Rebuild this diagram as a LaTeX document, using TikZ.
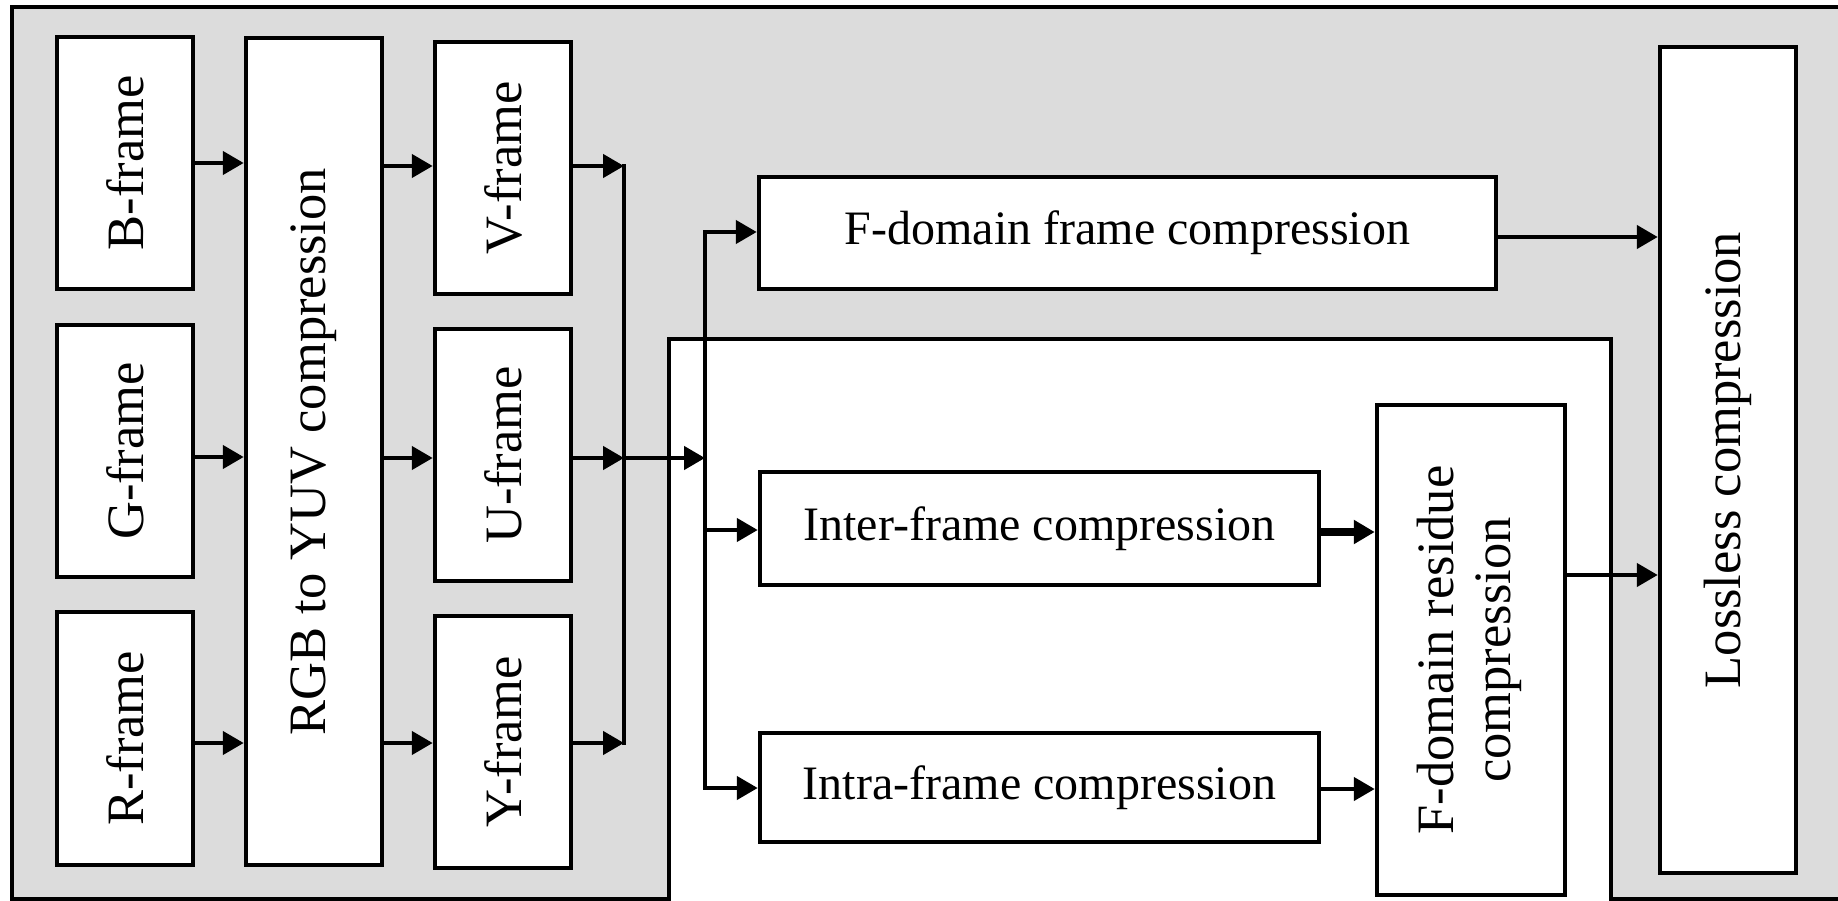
\documentclass[tikz,border=0pt]{standalone}
\usepackage{fontspec}
\setmainfont{Liberation Serif}
\usetikzlibrary{arrows.meta}
\definecolor{panelgray}{RGB}{220,220,220}
\tikzset{
  box/.style={draw=black, fill=white, line width=4.5pt, rectangle, inner sep=0pt, font=\fontsize{52.5}{57}\selectfont},
  hbox/.style={box, font=\fontsize{48}{56}\selectfont},
  arr/.style={line width=4.5pt, -{Triangle[length=21pt,width=23pt]}},
  ln/.style={line width=4.5pt, line cap=rect},
}
\begin{document}
\begin{tikzpicture}[x=1pt,y=-1pt]
\useasboundingbox (0,0) rectangle (1838,901);
\clip (0,0) rectangle (1838,901);
\fill[white] (0,0) rectangle (1838,901);
\filldraw[fill=panelgray, line width=4.5pt, line join=miter]
  (1900,899) -- (1611,899) -- (1611,339) -- (669,339) -- (669,899) -- (12,899) -- (12,7) -- (1900,7);

% input frames
\node[box, minimum width=136pt, minimum height=252pt] (B) at (125,163) {\rotatebox{90}{B-frame}};
\node[box, minimum width=136pt, minimum height=252pt] (G) at (125,451) {\rotatebox{90}{G-frame}};
\node[box, minimum width=136pt, minimum height=253pt] (R) at (125,738.5) {\rotatebox{90}{R-frame}};
\node[box, minimum width=136pt, minimum height=827pt] (RGB) at (314,451.5) {\rotatebox{90}{RGB to YUV compression}};
\node[box, minimum width=136pt, minimum height=252pt] (V) at (503,168) {\rotatebox{90}{V-frame}};
\node[box, minimum width=136pt, minimum height=252pt] (U) at (503,455) {\rotatebox{90}{U-frame}};
\node[box, minimum width=136pt, minimum height=252pt] (Y) at (503,742) {\rotatebox{90}{Y-frame}};

\node[hbox, minimum width=737pt, minimum height=112pt] (Fdom) at (1127.5,233) {F-domain frame compression};
\node[hbox, minimum width=559pt, minimum height=113pt] (Inter) at (1039.5,528.5) {Inter-frame compression};
\node[hbox, minimum width=559pt, minimum height=109pt] (Intra) at (1039.5,787.5) {Intra-frame compression};
\node[box, minimum width=188pt, minimum height=490pt] (Res) at (1471,650)
  {\rotatebox{90}{\begin{tabular}{@{}c@{}}F-domain residue\\compression\end{tabular}}};
\node[box, minimum width=136pt, minimum height=826pt] (Loss) at (1728,460) {\rotatebox{90}{Lossless compression}};

% bus coordinates
\coordinate (busT) at (624,166);
\coordinate (busM) at (624,458);
\coordinate (busB) at (624,743);
\coordinate (splitT) at (705,232);
\coordinate (splitM) at (705,458);
\coordinate (splitI) at (705,530);
\coordinate (splitB) at (705,788);

% RGB -> RGB to YUV
\draw[arr] (B.east |- 0,163) -- (RGB.west |- 0,163);
\draw[arr] (G.east |- 0,457) -- (RGB.west |- 0,457);
\draw[arr] (R.east |- 0,743) -- (RGB.west |- 0,743);
% RGB to YUV -> YUV
\draw[arr] (RGB.east |- 0,166) -- (V.west |- 0,166);
\draw[arr] (RGB.east |- 0,458) -- (U.west |- 0,458);
\draw[arr] (RGB.east |- 0,743) -- (Y.west |- 0,743);
% YUV -> bus
\draw[arr] (V.east |- busT) -- (busT);
\draw[arr] (U.east |- busM) -- (busM);
\draw[arr] (Y.east |- busB) -- (busB);
\draw[ln] (busT) -- (busB);
\draw[arr] (busM) -- (splitM);
\draw[ln] (splitT) -- (splitB);
\draw[arr] (splitT) -- (Fdom.west |- splitT);
\draw[arr] (splitI) -- (Inter.west |- splitI);
\draw[arr] (splitB) -- (Intra.west |- splitB);
% to residue / lossless
\draw[arr, line width=8pt] (Inter.east |- 0,532) -- (Res.west |- 0,532);
\draw[arr] (Intra.east |- 0,789) -- (Res.west |- 0,789);
\draw[arr] (Fdom.east |- 0,237) -- (Loss.west |- 0,237);
\draw[arr] (Res.east |- 0,575) -- (Loss.west |- 0,575);
\end{tikzpicture}
\end{document}
